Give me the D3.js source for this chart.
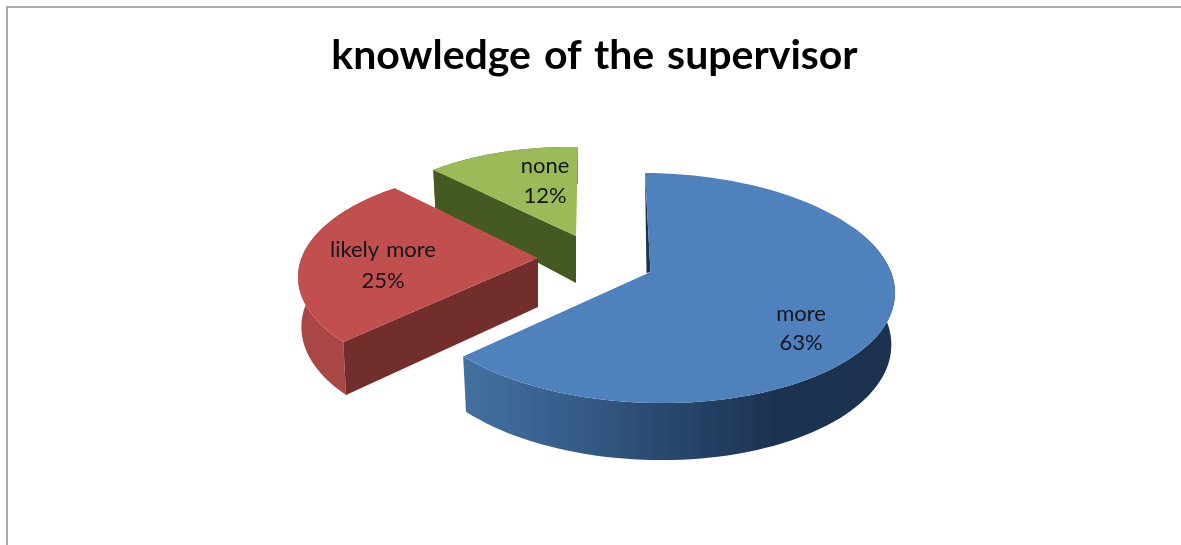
<!DOCTYPE html>
<html><head><meta charset="utf-8">
<script src="https://cdn.jsdelivr.net/npm/d3@7/dist/d3.min.js"></script>
<style>html,body{margin:0;padding:0;background:#fff}svg{display:block}</style>
</head><body><svg id="c" width="1181" height="545"></svg>
<script>
const titleText = "knowledge of the supervisor";
const categories = ["more", "likely more", "none"];
const shares = [63, 25, 12];
const labelSuffix = "%";

const svg = d3.select("#c");
const defs = svg.append("defs");
const soft = defs.append("filter").attr("id","soft").attr("x","-5%").attr("y","-5%").attr("width","110%").attr("height","110%");
soft.append("feGaussianBlur").attr("stdDeviation",0.7);
const softT = defs.append("filter").attr("id","softT").attr("x","-5%").attr("y","-20%").attr("width","110%").attr("height","140%");
softT.append("feGaussianBlur").attr("stdDeviation",0.55);
const grad = defs.append("linearGradient").attr("id","blueWall").attr("gradientUnits","userSpaceOnUse")
  .attr("x1",463).attr("x2",895).attr("y1",0).attr("y2",0);
[[0,"#44719f"],[0.2,"#39618f"],[0.45,"#2a4a70"],[0.72,"#1d3352"],[1,"#1b3150"]].forEach(s=>grad.append("stop").attr("offset",s[0]).attr("stop-color",s[1]));

// per-slice drawing geometry (ellipse of the exploded, perspective-viewed slice)
const look = {
  "more":       {top:"#4f81bd",cut:"#1b3150",wall:"url(#blueWall)",cx:652,cy:288,a:243,b:115,tilt:0.02,apex:[650.5,272],apexDepth:0,rimDepth:[52,5],off:[-1.65,4.2],lab:[801,321,350]},
  "likely more":{top:"#c0504d",cut:"#722e2c",wall:"#a84644",       cx:523,cy:277,a:225,b:108,tilt:0,   apex:[538,258],apexDepth:49,rimDepth:[50,5],off:[6.2,8.5],lab:[383,257,288]},
  "none":       {top:"#9bbb59",cut:"#445a22",wall:"#5f7a30",       cx:568.6,cy:250,a:215,b:103,tilt:0,apex:[576,236],apexDepth:47,rimDepth:[42,5],off:[4.2,2.5],lab:[545,173,203]}
};

const pie = d3.pie().value(d=>d.v).sort(null);
const arcs = pie(categories.map((c,i)=>({c,v:shares[i]})));
const line = d3.line();
const rad = Math.PI/180;

function rim(arc,p,under){
  const ang = d3.scaleLinear().domain([0,100]).range([arc.startAngle+p.off[0]*rad, arc.endAngle+p.off[1]*rad]);
  return d3.range(0,101).map(i=>{
    const t=ang(i), dx=p.a*Math.sin(t)*(under?0.985:1), dy=-p.b*Math.cos(t);
    const z=under?p.rimDepth[0]-p.rimDepth[1]*Math.cos(t):0;
    return [p.cx+dx, p.cy+dy+p.tilt*dx+z];
  });
}

const g = svg.append("g").attr("filter","url(#soft)");
[2,1,0].forEach(i=>{
  const a=arcs[i], p=look[a.data.c];
  const top=rim(a,p,false), bot=rim(a,p,true);
  // outer wall: swept quads, only the part facing the viewer
  const from = i===0 ? 25 : 0;
  g.append("path").attr("fill",p.wall).attr("d",
    d3.range(from,100).map(j=>line([top[j],top[j+1],bot[j+1],bot[j]])+"Z").join(""));
  if(i>0){
    const ab=[p.apex[0],p.apex[1]+p.apexDepth];
    g.append("path").attr("d",line([p.apex,top[0],bot[0],ab])+"Z").attr("fill",p.cut);
  } else {
    g.append("path").attr("d",line([top[0],p.apex,[p.apex[0]-4,p.apex[1]+1]])+"Z").attr("fill",p.cut);
  }
  g.append("path").attr("d",line([p.apex].concat(top))+"Z").attr("fill",p.top);
});

const lab = svg.append("g").attr("filter","url(#softT)").attr("font-family","Lato, 'Open Sans', sans-serif")
  .attr("font-size",22).attr("fill","#14141f").attr("text-anchor","middle");
arcs.forEach(a=>{
  const lp=look[a.data.c].lab;
  lab.append("text").attr("x",lp[0]).attr("y",lp[1]).attr("word-spacing",2).text(a.data.c);
  lab.append("text").attr("x",lp[0]).attr("y",lp[2]).text(a.data.v+labelSuffix);
});

svg.append("text").attr("filter","url(#softT)").attr("x",594.5).attr("y",69).attr("text-anchor","middle")
  .attr("font-family","Lato, sans-serif").attr("font-weight",700).attr("font-size",41)
  .attr("word-spacing",3).attr("fill","#000").text(titleText);

svg.append("path").attr("d","M7,545V7H1181").attr("fill","none").attr("stroke","#aaaaaa").attr("stroke-width",2);
</script></body></html>
